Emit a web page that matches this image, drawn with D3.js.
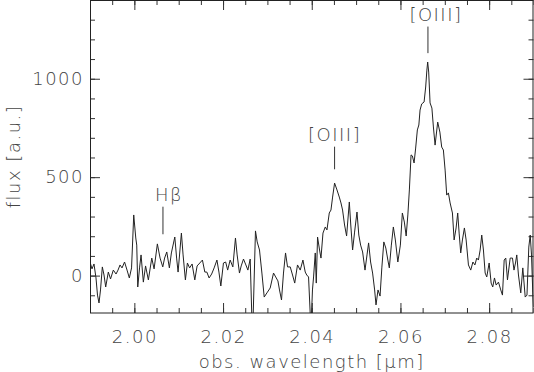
<!DOCTYPE html>
<html>
<head>
<meta charset="utf-8">
<script src="https://cdn.jsdelivr.net/npm/d3@7"></script>
<style>
  body { margin: 0; background: #fff; }
  svg text { font-family: "DejaVu Sans", sans-serif; font-weight: 200; fill: #444; letter-spacing: 1.5px; }
</style>
</head>
<body>
<script>
const width = 534;
const height = 372;
const margin = {top: 0.5, right: 0.5, bottom: 59, left: 90};

// spectrum
const wavelength = [
  1.99000, 1.99045, 1.99090, 1.99135, 1.99169, 1.99203, 1.99237, 1.99278, 1.99316, 1.99354,
  1.99413, 1.99463, 1.99526, 1.99587, 1.99632, 1.99677, 1.99722, 1.99779, 1.99835, 1.99887,
  1.99937, 1.99986, 2.00032, 2.00054, 2.00077, 2.00117, 2.00151, 2.00203, 2.00253, 2.00316,
  2.00393, 2.00445, 2.00519, 2.00580, 2.00641, 2.00682, 2.00731, 2.00790, 2.00835, 2.00912,
  2.00953, 2.00986, 2.01061, 2.01099, 2.01151, 2.01196, 2.01246, 2.01302, 2.01363, 2.01415,
  2.01476, 2.01535, 2.01589, 2.01634, 2.01686, 2.01743, 2.01799, 2.01862, 2.01907, 2.01950,
  2.02009, 2.02059, 2.02104, 2.02160, 2.02221, 2.02280, 2.02318, 2.02370, 2.02409, 2.02461,
  2.02515, 2.02560, 2.02612, 2.02664, 2.02731, 2.02770, 2.02822, 2.02876, 2.02928, 2.02989,
  2.03063, 2.03138, 2.03187, 2.03237, 2.03273, 2.03318, 2.03363, 2.03409, 2.03454, 2.03515,
  2.03567, 2.03616, 2.03679, 2.03740, 2.03801, 2.03853, 2.03887, 2.03928, 2.03982, 2.04016,
  2.04041, 2.04079, 2.04102, 2.04131, 2.04176, 2.04208, 2.04253, 2.04305, 2.04343, 2.04395,
  2.04433, 2.04470, 2.04515, 2.04569, 2.04621, 2.04659, 2.04695, 2.04740, 2.04786, 2.04847,
  2.04880, 2.04921, 2.04966, 2.05020, 2.05061, 2.05102, 2.05147, 2.05201, 2.05246, 2.05282,
  2.05327, 2.05372, 2.05418, 2.05449, 2.05494, 2.05540, 2.05580, 2.05625, 2.05670, 2.05716,
  2.05749, 2.05795, 2.05840, 2.05885, 2.05941, 2.05998, 2.06043, 2.06088, 2.06129, 2.06167,
  2.06201, 2.06239, 2.06269, 2.06307, 2.06343, 2.06381, 2.06415, 2.06442, 2.06479, 2.06533,
  2.06569, 2.06596, 2.06614, 2.06637, 2.06668, 2.06709, 2.06743, 2.06781, 2.06840, 2.06889,
  2.06930, 2.06968, 2.07007, 2.07043, 2.07081, 2.07120, 2.07172, 2.07210, 2.07255, 2.07291,
  2.07323, 2.07359, 2.07397, 2.07442, 2.07481, 2.07533, 2.07585, 2.07634, 2.07679, 2.07720,
  2.07758, 2.07797, 2.07833, 2.07871, 2.07910, 2.07946, 2.08000, 2.08045, 2.08081, 2.08120,
  2.08158, 2.08210, 2.08262, 2.08300, 2.08339, 2.08375, 2.08413, 2.08474, 2.08526, 2.08560,
  2.08594, 2.08623, 2.08661, 2.08713, 2.08759, 2.08813, 2.08853, 2.08894, 2.08926, 2.08955,
  2.08984, 2.09000
];
const flux = [
   69,   34,   59,  -12,  -99, -139,  -73,   44,    3,  -58,
   18,  -17,   28,    8,   28,   54,   39,   69,   28,  -12,
   39,  308,  191,  155,  -58,   39,  105,  -33,   49,  -22,
   89,   34,  161,   89,   44,   89,  120,   39,  115,  196,
   89,   18,  216,  105,  -22,   64,   39,   59,  -22,   49,
   64,   79,   18,   18,  -12,    8,   39,   79,   18,  -53,
   64,   69,   28,   79,   44,  191,  105,   13,   49,   84,
   54,   28,   84, -327,  227,  171,  130,   13, -109,  -88,
  -63,   13,   -7,  -27,  -73, -124,   13,  115,   44,   44,
    3,  -38,   54,   28,   79,   18,    3,   -7, -276,  -73,
   -7,  115,  -38,  196,  130,   89,  216,  247,  232,  318,
  333,  399,  470,  435,  399,  369,  333,  257,  201,  374,
  257,  130,  221,  323,  206,  155,  120,   28,  105,  166,
   69,   13,  -73, -149,  -73, -104,   39,  171,  140,   79,
   39,  155,  247,  181,   69,  155,  318,  272,  201,  308,
  435,  613,  608,  572,  648,  740,  765,  841,  872,  882,
  958, 1044, 1085, 1034,  877,  851,  755,  663,  780,  729,
  653,  638,  536,  409,  420,  369,  318,  181,  242,  318,
  216,  115,  181,  242,  181,   54,   28,   69,   54,   89,
   79,  130,  206,  130,   13,   -7,   64,  -38,  -58,  -12,
  -48,  -33,  -73,  -99,   79,   89,  -22,   89,   89,   28,
   64,  105,    3,  -88,   39, -109,  -99,  145,  206,  105,
  -88, -160
];

const xMajor = [2.00, 2.02, 2.04, 2.06, 2.08];
const xMinor = d3.range(0, 21).map(i => +(1.99 + i * 0.005).toFixed(3));
const yMajor = [0, 500, 1000];
const yMinor = d3.range(-100, 1401, 100);

// emission lines: marker wavelength, marker bottom/top flux, label x-offset px
const lineLabels = [
  {name: "Hβ", lam: 2.00645, lo: 210, hi: 350, dx: 6},
  {name: "[OIII]", lam: 2.04515, lo: 540, hi: 655, dx: 0},
  {name: "[OIII]", lam: 2.06620, lo: 1130, hi: 1265, dx: 8}
];

const innerW = width - margin.left - margin.right;

const x = d3.scaleLinear().domain([1.99, 2.09]).range([margin.left, margin.left + innerW]);
const y = d3.scaleLinear().domain([-190, 1400]).range([313, 0]);

const svg = d3.select("body").append("svg")
    .attr("width", width)
    .attr("height", height);

svg.append("clipPath").attr("id", "plot")
  .append("rect")
    .attr("x", x(1.99)).attr("y", 0)
    .attr("width", x(2.09) - x(1.99)).attr("height", 313);

// ticks on all four sides, pointing inwards
function addAxis(axis, tx, ty, values, size, labels) {
  const g = svg.append("g")
      .attr("transform", `translate(${tx},${ty})`)
      .call(axis.tickValues(values).tickSize(-size));
  g.select(".domain").remove();
  g.selectAll("line").attr("stroke", "#333");
  if (!labels) g.selectAll("text").remove();
  return g;
}

addAxis(d3.axisBottom(x).tickFormat(""), 0, 313, xMinor, 5, false);
addAxis(d3.axisTop(x).tickFormat(""), 0, 0, xMinor, 5, false);
addAxis(d3.axisLeft(y).tickFormat(""), x(1.99), 0, yMinor, 5, false);
addAxis(d3.axisRight(y).tickFormat(""), x(2.09), 0, yMinor, 5, false);

addAxis(d3.axisBottom(x).tickFormat(d3.format(".2f")).tickPadding(17), 0, 313, xMajor, 10, true);
addAxis(d3.axisTop(x).tickFormat(""), 0, 0, xMajor, 10, false);
addAxis(d3.axisLeft(y).tickFormat(d3.format("d")).tickPadding(6), x(1.99), 0, yMajor, 10, true);
addAxis(d3.axisRight(y).tickFormat(""), x(2.09), 0, yMajor, 10, false);

svg.selectAll(".tick text")
    .attr("font-size", 18)
    .attr("font-family", "DejaVu Sans")
    .attr("fill", "#444");

// frame
svg.append("rect")
    .attr("x", x(1.99) + 0.5).attr("y", 0.5)
    .attr("width", x(2.09) - x(1.99) - 1).attr("height", 312.5)
    .attr("fill", "none")
    .attr("stroke", "#222");

// spectrum
const line = d3.line()
    .x((d, i) => x(wavelength[i]))
    .y(d => y(d));

svg.append("path")
    .datum(flux)
    .attr("clip-path", "url(#plot)")
    .attr("d", line)
    .attr("fill", "none")
    .attr("stroke", "#222")
    .attr("stroke-width", 1);

// emission line markers
lineLabels.forEach(l => {
  svg.append("line")
      .attr("x1", x(l.lam)).attr("x2", x(l.lam))
      .attr("y1", y(l.lo)).attr("y2", y(l.hi))
      .attr("stroke", "#333");
  svg.append("text")
      .attr("x", x(l.lam) + l.dx)
      .attr("y", y(l.hi) - 6)
      .attr("text-anchor", "middle")
      .attr("font-size", 18)
      .text(l.name);
});

// axis titles
svg.append("text")
    .attr("x", (x(1.99) + x(2.09)) / 2)
    .attr("y", 368)
    .attr("text-anchor", "middle")
    .attr("font-size", 18)
    .text("obs. wavelength [μm]");

svg.append("text")
    .attr("transform", `translate(20,${313 / 2}) rotate(-90)`)
    .attr("text-anchor", "middle")
    .attr("font-size", 18)
    .text("flux [a.u.]");
</script>
</body>
</html>
